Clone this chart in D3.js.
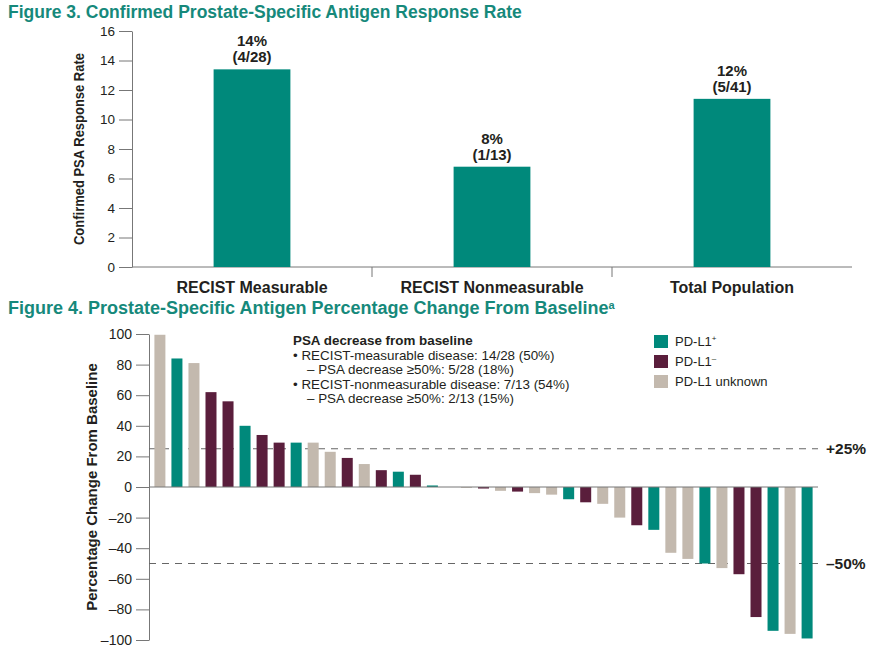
<!DOCTYPE html>
<html>
<head>
<meta charset="utf-8">
<script src="https://cdn.jsdelivr.net/npm/d3@7"></script>
<style>
  body { margin: 0; background: white; }
  text { font-family: "Liberation Sans", Arial, sans-serif; }
</style>
</head>
<body>
<div id="chart"></div>
<script>
// Figure 3 data
const responseGroups = ["RECIST Measurable", "RECIST Nonmeasurable", "Total Population"];
const responseRates = [13.4, 6.8, 11.4];
const responsePct = ["14%", "8%", "12%"];
const responseCounts = ["(4/28)", "(1/13)", "(5/41)"];
const rateTicks = [0, 2, 4, 6, 8, 10, 12, 14, 16];

// Figure 4 data (one bar per patient, sorted)
const psaChange = [99.5, 84, 81, 62, 56, 40, 34, 29, 29, 29, 23, 19, 15, 11, 10, 8, 1, 0,
  -0.5, -1, -2.5, -3, -4, -5, -8, -10, -11, -20, -25, -28, -43, -47, -50, -53, -57, -85, -94, -96, -99];
const pdl1Status = ["unk", "pos", "unk", "neg", "neg", "pos", "neg", "neg", "pos", "unk", "unk", "neg", "unk", "neg", "pos", "neg", "pos", "unk",
  "unk", "neg", "unk", "neg", "unk", "unk", "pos", "neg", "unk", "unk", "neg", "pos", "unk", "unk", "pos", "unk", "neg", "neg", "pos", "unk", "pos"];
const changeTicks = [-100, -80, -60, -40, -20, 0, 20, 40, 60, 80, 100];
const thresholds = [25, -50];
const thresholdLabels = ["+25%", "\u201350%"];
const legendKeys = ["pos", "neg", "unk"];
const legendNames = [["PD-L1", "+"], ["PD-L1", "\u2013"], ["PD-L1 unknown", ""]];
const noteLines = [
  "PSA decrease from baseline",
  "\u2022 RECIST-measurable disease: 14/28 (50%)",
  "\u2013 PSA decrease \u226550%: 5/28 (18%)",
  "\u2022 RECIST-nonmeasurable disease: 7/13 (54%)",
  "\u2013 PSA decrease \u226550%: 2/13 (15%)"
];

const width = 891, height = 658;
const teal = "#00897b", titleColor = "#16897b", ink = "#231f20", axisColor = "#777";
const statusColor = d3.scaleOrdinal().domain(["pos", "neg", "unk"]).range([teal, "#5a1e3c", "#c3b9ae"]);
const fmt = (d) => (d < 0 ? "\u2013" + Math.abs(d) : d);

const svg = d3.select("#chart")
  .append("svg")
  .attr("width", width)
  .attr("height", height);

// ---------- Figure 3 ----------
svg.append("text")
  .attr("x", 8).attr("y", 18)
  .attr("fill", titleColor)
  .style("font-size", "17.5px").style("font-weight", "bold")
  .text("Figure 3. Confirmed Prostate-Specific Antigen Response Rate");

const x1 = d3.scaleBand().domain(responseGroups).range([132, 852]).paddingInner(0.68).paddingOuter(0.34);
const y1 = d3.scaleLinear().domain([0, 16]).range([267, 31]);

const yAxis1 = svg.append("g")
  .attr("transform", "translate(132,0)")
  .call(d3.axisLeft(y1).tickValues(rateTicks).tickSize(13).tickSizeOuter(0).tickPadding(4));
yAxis1.selectAll("text").style("font-size", "13.5px").attr("fill", ink);
yAxis1.selectAll("line, path").attr("stroke", axisColor);

// x axis line + separators
svg.append("line")
  .attr("x1", 132).attr("x2", 852).attr("y1", y1(0)).attr("y2", y1(0))
  .attr("stroke", axisColor);
const gap1 = x1.step() - x1.bandwidth();
svg.selectAll(".sep")
  .data(responseGroups.slice(1))
  .enter()
  .append("line")
  .attr("x1", (d) => x1(d) - gap1 / 2).attr("x2", (d) => x1(d) - gap1 / 2)
  .attr("y1", y1(0)).attr("y2", y1(0) + 10)
  .attr("stroke", axisColor);

// condensed axis title, forced to the reference length
svg.append("text")
  .attr("transform", `translate(84,${(y1(0) + y1(16)) / 2}) rotate(-90)`)
  .attr("text-anchor", "middle")
  .attr("fill", ink)
  .attr("textLength", 192)
  .attr("lengthAdjust", "spacingAndGlyphs")
  .style("font-family", "'Liberation Sans Narrow', 'Liberation Sans', Arial, sans-serif")
  .style("font-size", "15px").style("font-weight", "bold")
  .text("Confirmed PSA Response Rate");

svg.append("g")
  .selectAll("rect")
  .data(responseRates)
  .enter()
  .append("rect")
  .attr("x", (d, i) => x1(responseGroups[i]))
  .attr("y", (d) => y1(d))
  .attr("width", x1.bandwidth())
  .attr("height", (d) => y1(0) - y1(d))
  .attr("fill", teal);

const rateLabels = svg.append("g")
  .selectAll("text")
  .data(responseRates)
  .enter()
  .append("text")
  .attr("text-anchor", "middle")
  .attr("fill", ink)
  .style("font-size", "15px").style("font-weight", "bold");
rateLabels.append("tspan")
  .attr("x", (d, i) => x1(responseGroups[i]) + x1.bandwidth() / 2)
  .attr("y", (d) => y1(d) - 23)
  .text((d, i) => responsePct[i]);
rateLabels.append("tspan")
  .attr("x", (d, i) => x1(responseGroups[i]) + x1.bandwidth() / 2)
  .attr("y", (d) => y1(d) - 7)
  .text((d, i) => responseCounts[i]);

svg.append("g")
  .selectAll("text")
  .data(responseGroups)
  .enter()
  .append("text")
  .attr("x", (d) => x1(d) + x1.bandwidth() / 2)
  .attr("y", 293)
  .attr("text-anchor", "middle")
  .attr("fill", ink)
  .style("font-size", "16px").style("font-weight", "bold")
  .text((d) => d);

// ---------- Figure 4 ----------
const title4 = svg.append("text")
  .attr("x", 8).attr("y", 314)
  .attr("fill", titleColor)
  .style("font-size", "18px").style("font-weight", "bold");
title4.append("tspan").text("Figure 4. Prostate-Specific Antigen Percentage Change From Baseline");
title4.append("tspan").attr("dy", -5).style("font-size", "11px").text("a");

const x2 = d3.scaleBand().domain(d3.range(psaChange.length)).range([149, 818]).paddingInner(0.354).paddingOuter(0.317);
const y2 = d3.scaleLinear().domain([-100, 100]).range([640, 334]);

const yAxis2 = svg.append("g")
  .attr("transform", "translate(149,0)")
  .call(d3.axisLeft(y2).tickValues(changeTicks).tickFormat(fmt).tickSize(13).tickSizeOuter(0).tickPadding(4));
yAxis2.selectAll("text").style("font-size", "14px").attr("fill", ink);
yAxis2.selectAll("line, path").attr("stroke", axisColor);

svg.append("text")
  .attr("transform", `translate(97,${(y2(100) + y2(-100)) / 2}) rotate(-90)`)
  .attr("text-anchor", "middle")
  .attr("fill", ink)
  .style("font-size", "15px").style("font-weight", "bold")
  .text("Percentage Change From Baseline");

// threshold lines
svg.append("g")
  .selectAll("line")
  .data(thresholds)
  .enter()
  .append("line")
  .attr("x1", 149).attr("x2", 818)
  .attr("y1", (d) => y2(d)).attr("y2", (d) => y2(d))
  .attr("stroke", "#666")
  .attr("stroke-dasharray", "7,6");
svg.append("g")
  .selectAll("text")
  .data(thresholds)
  .enter()
  .append("text")
  .attr("x", 826)
  .attr("y", (d) => y2(d) + 5)
  .attr("fill", ink)
  .style("font-size", "15.5px").style("font-weight", "bold")
  .text((d, i) => thresholdLabels[i]);

// waterfall bars
svg.append("g")
  .selectAll("rect")
  .data(psaChange)
  .enter()
  .append("rect")
  .attr("x", (d, i) => x2(i))
  .attr("y", (d) => y2(Math.max(0, d)))
  .attr("width", x2.bandwidth())
  .attr("height", (d) => Math.abs(y2(d) - y2(0)))
  .attr("fill", (d, i) => statusColor(pdl1Status[i]));

svg.append("line")
  .attr("x1", 149).attr("x2", 818).attr("y1", y2(0)).attr("y2", y2(0))
  .attr("stroke", axisColor);

// note block
svg.append("g")
  .selectAll("text")
  .data(noteLines)
  .enter()
  .append("text")
  .attr("x", (d, i) => (i === 0 ? 293 : i % 2 === 1 ? 293 : 307))
  .attr("y", (d, i) => 345 + i * 14.5)
  .attr("fill", ink)
  .style("font-size", "13.4px")
  .style("font-weight", (d, i) => (i === 0 ? "bold" : "normal"))
  .text((d) => d);

// legend
const legend = svg.append("g")
  .selectAll("g")
  .data(legendKeys)
  .enter()
  .append("g")
  .attr("transform", (d, i) => `translate(654,${335 + i * 20})`);
legend.append("rect")
  .attr("width", 14).attr("height", 13)
  .attr("fill", (d) => statusColor(d));
const legendText = legend.append("text")
  .attr("x", 21).attr("y", 11)
  .attr("fill", ink)
  .style("font-size", "13px");
legendText.append("tspan").text((d, i) => legendNames[i][0]);
legendText.append("tspan")
  .attr("dy", -5)
  .style("font-size", "8px")
  .text((d, i) => legendNames[i][1]);
</script>
</body>
</html>
